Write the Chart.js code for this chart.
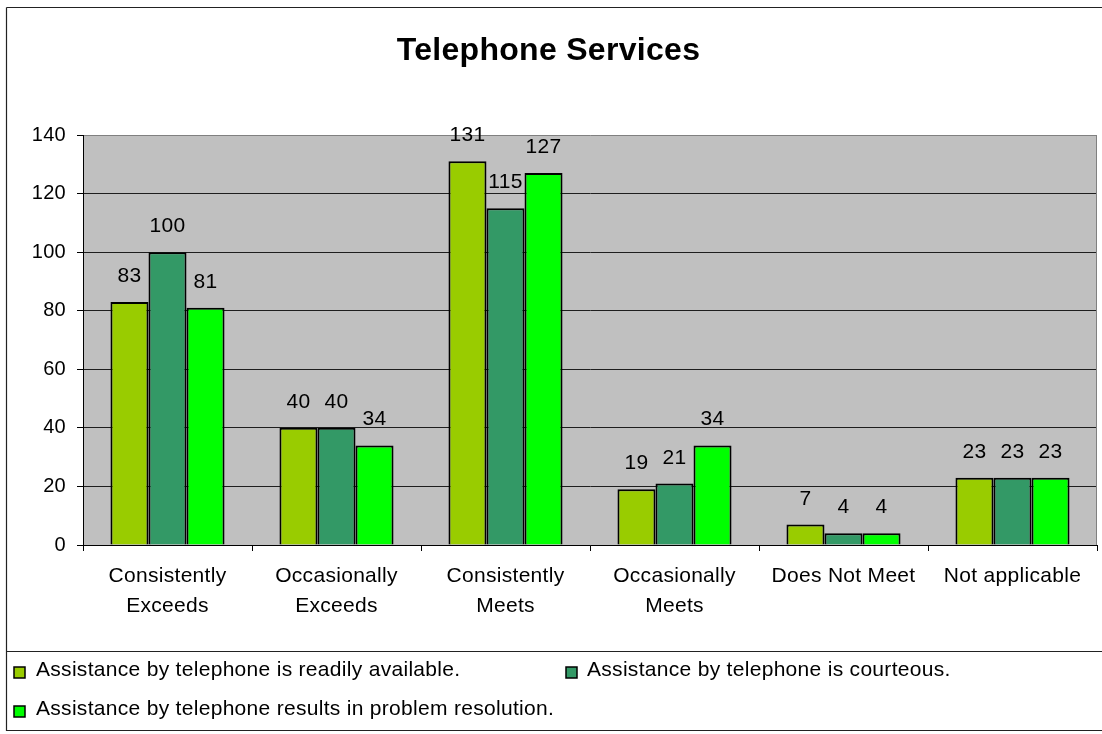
<!DOCTYPE html>
<html>
<head>
<meta charset="utf-8">
<script src="https://cdn.jsdelivr.net/npm/chart.js@4.4.1/dist/chart.umd.min.js"></script>
<style>
  html, body { margin: 0; padding: 0; background: #ffffff; }
  #c { display: block; }
</style>
</head>
<body>
<canvas id="c" width="1102" height="734"></canvas>
<script>
// ---- Data ----
const chartTitle = "Telephone Services";
const categories = [["Consistently", "Exceeds"], ["Occasionally", "Exceeds"], ["Consistently", "Meets"], ["Occasionally", "Meets"], "Does Not Meet", "Not applicable"];
const seriesNames = [
  "Assistance by telephone is readily available.",
  "Assistance by telephone is courteous.",
  "Assistance by telephone results in problem resolution."
];
const availableValues = [83, 40, 131, 19, 7, 23];
const courteousValues = [100, 40, 115, 21, 4, 23];
const resolutionValues = [81, 34, 127, 34, 4, 23];
const yMin = 0, yMax = 140, yStep = 20;
const seriesColors = ["#99CC00", "#339966", "#00FF00"];

const FONT = "'Liberation Sans', Arial, sans-serif";
const SPACING = '0.3px';

const spacingPlugin = {
  id: 'spacing',
  beforeUpdate(chart) { chart.ctx.letterSpacing = SPACING; },
  beforeDraw(chart) { chart.ctx.letterSpacing = SPACING; }
};

const plotBg = {
  id: 'plotBg',
  beforeDraw(chart) {
    const { ctx, chartArea: a } = chart;
    ctx.save();
    ctx.fillStyle = '#C0C0C0';
    ctx.fillRect(a.left, a.top, a.right - a.left, a.bottom - a.top);
    ctx.restore();
  },
  afterDatasetsDraw(chart) {
    const { ctx, chartArea: a } = chart;
    ctx.save();
    ctx.strokeStyle = '#808080';
    ctx.lineWidth = 1;
    ctx.beginPath();
    ctx.moveTo(a.right - 0.5, a.top);
    ctx.lineTo(a.right - 0.5, a.bottom);
    ctx.stroke();
    ctx.restore();
  }
};

const valueLabels = {
  id: 'valueLabels',
  afterDatasetsDraw(chart) {
    const { ctx } = chart;
    ctx.save();
    ctx.letterSpacing = SPACING;
    ctx.font = "21px " + FONT;
    ctx.fillStyle = '#000';
    ctx.textAlign = 'center';
    ctx.textBaseline = 'alphabetic';
    chart.data.datasets.forEach((ds, i) => {
      const meta = chart.getDatasetMeta(i);
      meta.data.forEach((bar, j) => {
        ctx.fillText(String(ds.data[j]), bar.x, bar.y - 20);
      });
    });
    ctx.restore();
  }
};

const frameAndLegend = {
  id: 'frameAndLegend',
  afterDraw(chart) {
    const { ctx } = chart;
    ctx.save();
    ctx.letterSpacing = SPACING;
    ctx.strokeStyle = '#222';
    ctx.lineWidth = 1.2;
    ctx.beginPath();
    ctx.moveTo(6.5, 7.5); ctx.lineTo(1102, 7.5);
    ctx.moveTo(6.5, 7.5); ctx.lineTo(6.5, 731);
    ctx.moveTo(6.5, 651.5); ctx.lineTo(1102, 651.5);
    ctx.moveTo(6.5, 730.5); ctx.lineTo(1102, 730.5);
    ctx.stroke();

    const pos = [
      { bx: 14, by: 667, tx: 36, ty: 670.5 },
      { bx: 566, by: 667, tx: 587, ty: 670.5 },
      { bx: 14, by: 706, tx: 36, ty: 709.5 }
    ];
    ctx.font = "21px " + FONT;
    ctx.textBaseline = 'middle';
    ctx.textAlign = 'left';
    chart.data.datasets.forEach((ds, i) => {
      const p = pos[i];
      ctx.fillStyle = ds.backgroundColor;
      ctx.fillRect(p.bx, p.by, 11, 11);
      ctx.strokeStyle = '#000';
      ctx.lineWidth = 1.5;
      ctx.strokeRect(p.bx, p.by, 11, 11);
      ctx.fillStyle = '#000';
      ctx.fillText(ds.label, p.tx, p.ty);
    });
    ctx.restore();
  }
};

new Chart(document.getElementById('c'), {
  type: 'bar',
  data: {
    labels: categories,
    datasets: [
      { label: seriesNames[0], data: availableValues, backgroundColor: seriesColors[0], borderColor: '#000', borderWidth: 2 },
      { label: seriesNames[1], data: courteousValues, backgroundColor: seriesColors[1], borderColor: '#000', borderWidth: 2 },
      { label: seriesNames[2], data: resolutionValues, backgroundColor: seriesColors[2], borderColor: '#000', borderWidth: 2 }
    ]
  },
  options: {
    responsive: false,
    animation: false,
    devicePixelRatio: 1,
    layout: { padding: { left: 0, right: 5, top: 0, bottom: 83 } },
    datasets: { bar: { categoryPercentage: 0.675, barPercentage: 1.0 } },
    plugins: {
      legend: { display: false },
      tooltip: { enabled: false },
      title: {
        display: true,
        text: chartTitle,
        color: '#000',
        font: { family: FONT, size: 32, weight: 'bold', lineHeight: 1.2 },
        padding: { top: 32, bottom: 64.6 }
      }
    },
    scales: {
      x: {
        offset: true,
        grid: { display: true, drawOnChartArea: false, drawTicks: true, tickLength: 6, tickColor: '#000', offset: true },
        border: { display: true, color: '#000', width: 1 },
        ticks: { color: '#000', font: { family: FONT, size: 21, lineHeight: 1.43 }, padding: 10, maxRotation: 0, autoSkip: false },
        afterFit(scale) { scale.height = 106; }
      },
      y: {
        min: yMin,
        max: yMax,
        ticks: { stepSize: yStep, color: '#000', font: { family: FONT, size: 20 }, padding: 11 },
        grid: {
          color: (c) => (c.tick && c.tick.value === yMax) ? '#808080' : '#1e1e1e',
          lineWidth: 1,
          tickLength: 6,
          tickColor: '#000'
        },
        border: { display: true, color: '#000', width: 1 },
        afterFit(scale) { scale.width = 83; }
      }
    }
  },
  plugins: [spacingPlugin, plotBg, valueLabels, frameAndLegend]
});
</script>
</body>
</html>
